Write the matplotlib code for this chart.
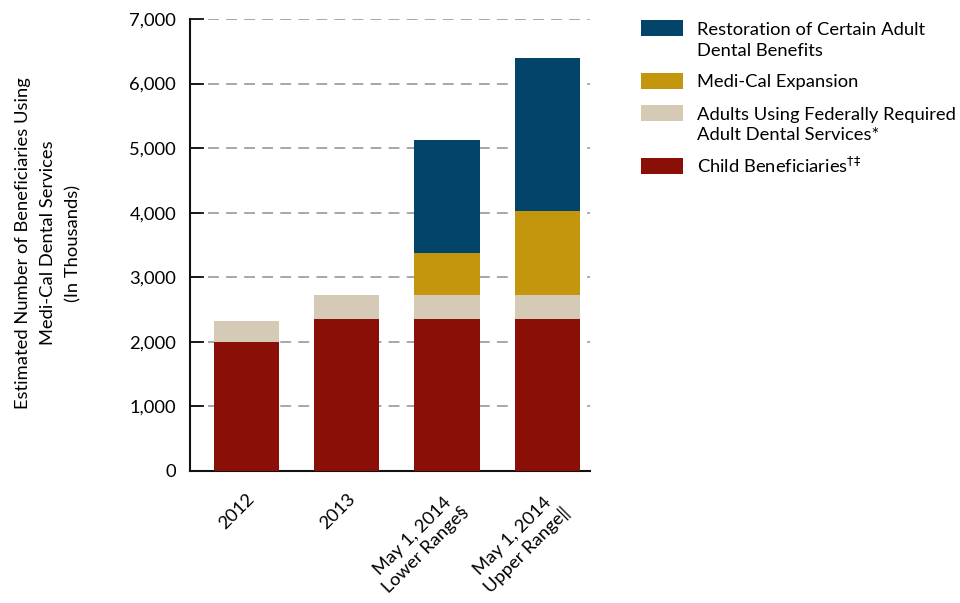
import matplotlib
matplotlib.use("Agg")
import matplotlib.pyplot as plt
from matplotlib.patches import Rectangle
import numpy as np

plt.rcParams['font.family'] = ['Lato', 'DejaVu Sans']
FS = 13.2

# values in thousands
categories = ['2012', '2013', 'May 1, 2014\nLower Range§', 'May 1, 2014\nUpper Range‖']
child = [2000, 2350, 2350, 2350]
adults_federal = [320, 370, 370, 370]
expansion = [0, 0, 650, 1300]
restoration = [0, 0, 1750, 2370]

series_names = ['Restoration of Certain Adult\nDental Benefits',
                'Medi-Cal Expansion',
                'Adults Using Federally Required\nAdult Dental Services*',
                r'Child Beneficiaries$^{\dagger\!\ddagger}$']
colors = ['#02446a', '#c4960e', '#d4cab6', '#8a0f06']
ylabel_lines = ['Estimated Number of Beneficiaries Using',
                'Medi-Cal Dental Services', '(In Thousands)']

W, H = 960, 603
fig = plt.figure(figsize=(W / 100, H / 100), dpi=100)
ax = fig.add_axes([0.198, 0.219, 0.417, 0.7495])

x = np.arange(len(categories))
w = 0.65
bottom = np.zeros(len(categories))
for vals, c in zip([child, adults_federal, expansion, restoration], colors[::-1]):
    ax.bar(x, vals, w, bottom=bottom, color=c, zorder=3)
    bottom += np.array(vals)

ax.set_ylim(0, 7000)
ax.set_xlim(-0.56, 3.43)
ax.set_yticks(range(0, 7001, 1000))
ax.set_yticklabels(['{:,}'.format(v) for v in range(0, 7001, 1000)], fontsize=FS)
for v in range(1000, 7001, 1000):
    ax.axhline(v, color='#a0a0a0', lw=1.3, ls=(0, (6, 4)), zorder=1)

ax.set_xticks(x)
ax.set_xticklabels(categories, rotation=45, ha='right', rotation_mode='anchor',
                   fontsize=FS, multialignment='center', linespacing=1.25)
ax.tick_params(axis='x', length=0, pad=14)
ax.tick_params(axis='y', direction='in', length=10, width=1.2, pad=10)

for s in ['top', 'right']:
    ax.spines[s].set_visible(False)
for s in ['left', 'bottom']:
    ax.spines[s].set_linewidth(1.5)
    ax.spines[s].set_color('#111111')

# y label, one line at a time
for xc, line in zip([23, 48, 73], ylabel_lines):
    fig.text(xc / W, 1 - 243 / H, line, rotation=90, ha='center', va='center',
             fontsize=FS)

# legend drawn by hand so the swatch lines up with the first text line
patch_tops = [20, 73, 105, 158]
first_baselines = [35, 87, 120, 173]
for top, base, name, c in zip(patch_tops, first_baselines, series_names, colors):
    fig.patches.append(Rectangle((641 / W, 1 - (top + 16) / H), 42 / W, 16 / H,
                                 transform=fig.transFigure, facecolor=c,
                                 edgecolor='none'))
    for i, line in enumerate(name.split('\n')):
        fig.text(697 / W, 1 - (base + 20.5 * i) / H, line, fontsize=FS,
                 va='baseline', ha='left')

fig.savefig('out.png', dpi=100)
